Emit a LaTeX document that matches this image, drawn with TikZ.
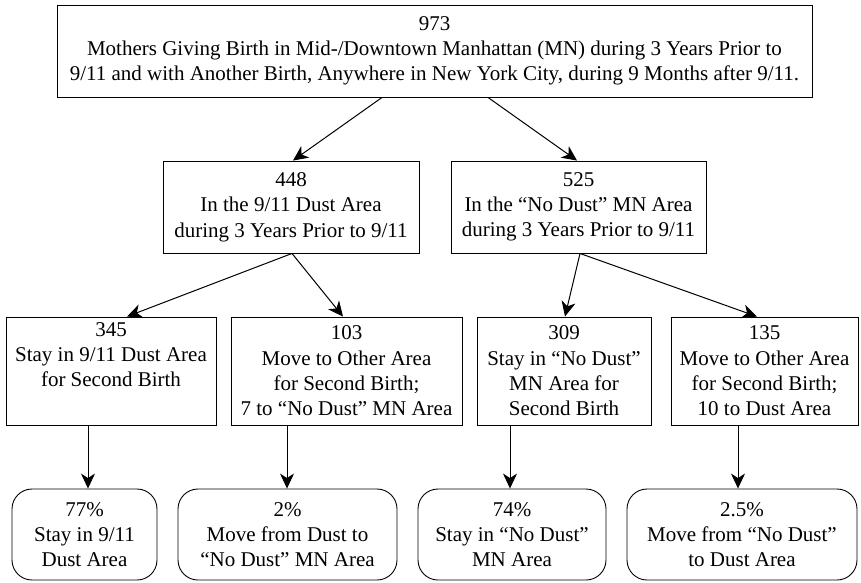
\documentclass[tikz,border=0pt]{standalone}
\usepackage{fontspec}
\setmainfont{Liberation Serif}
\usetikzlibrary{arrows.meta}
\tikzset{
	box/.style={draw, rectangle, line width=0.9pt, inner sep=2pt, align=center, font=\fontsize{21}{25.3}\selectfont},
	outcome/.style={box, rounded corners=20pt},
	flow/.style={-{Stealth[length=15pt, width=14pt, inset=4.5pt]}, line width=1pt},
}

\begin{document}
\begin{tikzpicture}[x=1pt, y=-1pt]
				\useasboundingbox (0, 0) rectangle (861, 582);
				% first level
				\node[box, minimum width=755pt, minimum height=92pt] (all)at(434.5, 51) {973\\Mothers Giving Birth in Mid-/Downtown Manhattan (MN) during 3 Years Prior to\\9/11 and with Another Birth, Anywhere in New York City, during 9 Months after 9/11.};
				% second level
				\node[box, minimum width=256pt, minimum height=92pt] (dust)at(291, 207) {448\\In the 9/11 Dust Area\\during 3 Years Prior to 9/11};
				\node[box, minimum width=255pt, minimum height=92pt] (nodust)at(578.5, 207) {525\\In the “No Dust” MN Area\\during 3 Years Prior to 9/11};
				% third level
				\node[box, minimum width=210pt, minimum height=108pt] (staydust)at(111, 371) {345\\Stay in 9/11 Dust Area\\for Second Birth\\\strut};
				\node[box, minimum width=231pt, minimum height=108pt] (movedust)at(346.5, 371) {103\\Move to Other Area\\for Second Birth;\\7 to “No Dust” MN Area};
				\node[box, minimum width=174pt, minimum height=108pt] (staynodust)at(564, 371) {309\\Stay in “No Dust”\\MN Area for\\Second Birth};
				\node[box, minimum width=187pt, minimum height=108pt] (movenodust)at(764.5, 371) {135\\Move to Other Area\\for Second Birth;\\10 to Dust Area};
				% outcomes
				\node[outcome, minimum width=145pt, minimum height=91pt] (pstaydust)at(84.5, 534.5) {77\%\\Stay in 9/11\\Dust Area};
				\node[outcome, minimum width=219pt, minimum height=91pt] (pmovedust)at(287.5, 534.5) {2\%\\Move from Dust to\\“No Dust” MN Area};
				\node[outcome, minimum width=188pt, minimum height=91pt] (pstaynodust)at(512, 534.5) {74\%\\Stay in “No Dust”\\MN Area};
				\node[outcome, minimum width=230pt, minimum height=91pt] (pmovenodust)at(742, 534.5) {2.5\%\\Move from “No Dust”\\to Dust Area};
				\draw[flow] ([xshift=-52.5pt]all.south) -- ([xshift=2pt]dust.north);
				\draw[flow] ([xshift=53.5pt]all.south) -- ([xshift=-1.5pt]nodust.north);
				\draw[flow] ([xshift=1pt]dust.south) -- ([xshift=16pt]staydust.north);
				\draw[flow] ([xshift=1pt]dust.south) -- ([xshift=-3.5pt]movedust.north);
				\draw[flow] ([xshift=1.5pt]nodust.south) -- ([xshift=1pt]staynodust.north);
				\draw[flow] ([xshift=1.5pt]nodust.south) -- ([xshift=-7.5pt]movenodust.north);
				\draw[flow] ([xshift=-23pt]staydust.south) -- ([xshift=-23pt]staydust.south |- pstaydust.north);
				\draw[flow] ([xshift=-59.5pt]movedust.south) -- ([xshift=-59.5pt]movedust.south |- pmovedust.north);
				\draw[flow] ([xshift=-54pt]staynodust.south) -- ([xshift=-54pt]staynodust.south |- pstaynodust.north);
				\draw[flow] ([xshift=-26.5pt]movenodust.south) -- ([xshift=-26.5pt]movenodust.south |- pmovenodust.north);
			\end{tikzpicture}
\end{document}
